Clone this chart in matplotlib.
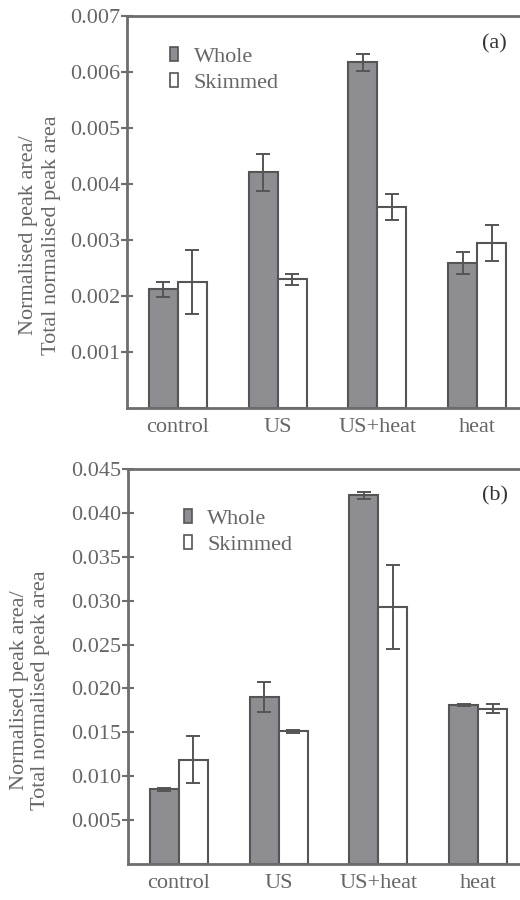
import matplotlib
matplotlib.use("Agg")
import matplotlib.pyplot as plt
from matplotlib.patches import Patch
import numpy as np

categories = ["control", "US", "US+heat", "heat"]

# Panel (a)
a_whole = [0.00212, 0.00421, 0.00617, 0.00259]
a_whole_err = [0.00013, 0.00033, 0.00015, 0.00019]
a_skim = [0.00225, 0.00230, 0.00359, 0.00294]
a_skim_err = [0.00058, 0.00010, 0.00024, 0.00032]
a_ticks = [0.001, 0.002, 0.003, 0.004, 0.005, 0.006, 0.007]

# Panel (b)
b_whole = [0.0085, 0.0190, 0.0420, 0.0181]
b_whole_err = [0.0002, 0.0017, 0.0004, 0.0001]
b_skim = [0.0119, 0.0151, 0.0293, 0.0177]
b_skim_err = [0.0027, 0.0002, 0.0048, 0.0005]
b_ticks = [0.005, 0.010, 0.015, 0.020, 0.025, 0.030, 0.035, 0.040, 0.045]

plt.rcParams['font.family'] = ['Liberation Serif', 'DejaVu Serif']

TEXT = '#666666'
SPINE = '#6e6e6e'
EDGE = '#555555'
WHOLE = '#8e8e92'
FS = 16

fig = plt.figure(figsize=(5.2, 9), dpi=100)

W, H = 520.0, 900.0


def make_panel(rect_px, whole, werr, skim, serr, ticks, ymax, label, lab_xy,
               lab_ls, leg_xy, tag_xy):
    l, t, r, b = rect_px
    ax = fig.add_axes([l / W, 1 - b / H, (r - l) / W, (b - t) / H])
    x = np.arange(len(categories))
    bw = 0.29
    ekw = dict(ecolor=EDGE, elinewidth=1.4, capsize=5, capthick=1.4)
    ax.bar(x - bw / 2, whole, bw, yerr=werr, color=WHOLE, edgecolor=EDGE,
           linewidth=1.5, error_kw=ekw, label='Whole', zorder=2)
    ax.bar(x + bw / 2, skim, bw, yerr=serr, color='white', edgecolor=EDGE,
           linewidth=1.5, error_kw=ekw, label='Skimmed', zorder=2)
    ax.set_xlim(-0.51, 3.51)
    ax.set_ylim(0, ymax)
    ax.set_yticks(ticks)
    ax.set_yticklabels([f"{v:.3f}" for v in ticks])
    ax.set_xticks(x)
    ax.set_xticklabels(categories)
    ax.tick_params(axis='y', direction='inout', length=8, width=1.5,
                   color=SPINE, labelcolor=TEXT, labelsize=FS, pad=1)
    ax.tick_params(axis='x', length=0, labelcolor=TEXT, labelsize=FS, pad=7)
    for s in ['left', 'bottom', 'top']:
        ax.spines[s].set_color(SPINE)
        ax.spines[s].set_linewidth(2)
    ax.spines['right'].set_visible(False)
    ax.set_ylabel("Normalised peak area/\nTotal normalised peak area",
                  color=TEXT, fontsize=FS, linespacing=lab_ls)
    ax.yaxis.set_label_coords(*lab_xy)
    handles = [Patch(facecolor=WHOLE, edgecolor=EDGE, linewidth=1.2, label='Whole'),
               Patch(facecolor='white', edgecolor=EDGE, linewidth=1.2, label='Skimmed')]
    leg = ax.legend(handles=handles, loc='upper left', bbox_to_anchor=leg_xy,
                    frameon=False, fontsize=FS, handlelength=0.35,
                    handleheight=0.6, handletextpad=0.7, labelspacing=0.25,
                    borderaxespad=0, borderpad=0)
    for txt in leg.get_texts():
        txt.set_color(TEXT)
    ax.text(tag_xy[0], tag_xy[1], label, transform=ax.transAxes,
            fontsize=FS, color='#333333', va='center', ha='left')
    return ax


make_panel((127, 16, 528, 408), a_whole, a_whole_err, a_skim, a_skim_err,
           a_ticks, 0.007, '(a)', (-0.165, 0.44), 1.3, (0.108, 0.92), (0.885, 0.928))
make_panel((128, 469, 529, 864), b_whole, b_whole_err, b_skim, b_skim_err,
           b_ticks, 0.045, '(b)', (-0.195, 0.44), 1.1, (0.14, 0.898), (0.883, 0.932))

fig.savefig("out.png", dpi=100)
